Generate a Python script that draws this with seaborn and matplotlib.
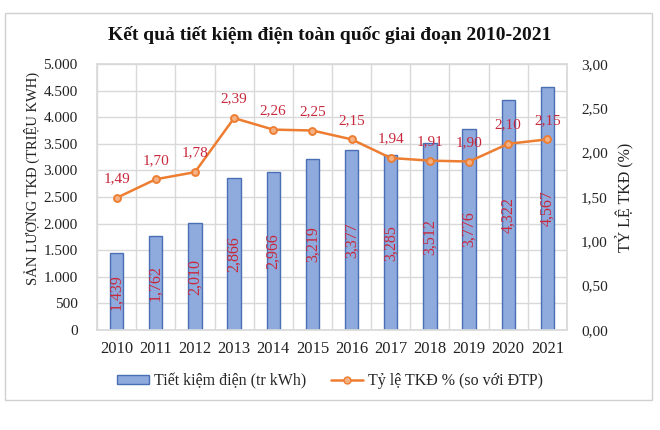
import matplotlib
matplotlib.use("Agg")
import matplotlib.pyplot as plt
import seaborn as sns
import pandas as pd
from matplotlib.ticker import FuncFormatter, FixedLocator
from matplotlib.patches import Rectangle, Patch
from matplotlib.lines import Line2D

years = ["2010", "2011", "2012", "2013", "2014", "2015", "2016", "2017", "2018", "2019", "2020", "2021"]
savings = [1439, 1762, 2010, 2866, 2966, 3219, 3377, 3285, 3512, 3776, 4322, 4567]
ratio = [1.49, 1.70, 1.78, 2.39, 2.26, 2.25, 2.15, 1.94, 1.91, 1.90, 2.10, 2.15]
left_ticks = [0, 500, 1000, 1500, 2000, 2500, 3000, 3500, 4000, 4500, 5000]
right_ticks = [0.0, 0.5, 1.0, 1.5, 2.0, 2.5, 3.0]

title = "Kết quả tiết kiệm điện toàn quốc giai đoạn 2010-2021"
bar_name = "Tiết kiệm điện (tr kWh)"
line_name = "Tỷ lệ TKĐ % (so với ĐTP)"

df = pd.DataFrame({"year": years, "savings": savings, "ratio": ratio})

sns.set_theme(style="white")
plt.rcParams["font.family"] = ["Liberation Serif", "DejaVu Serif"]

BAR = "#8FAADC"
BAR_EDGE = "#4A6FB5"
LINE = "#ED7D31"
MARK = "#F4B183"
LABEL = "#C8283C"
GRID = "#D9D9D9"
TXT = "#222222"

fig = plt.figure(figsize=(6.6, 4.3), dpi=100)
fig.patch.set_facecolor("white")
fig.patches.append(Rectangle((5 / 660, 1 - 400 / 430), 647 / 660, 387 / 430,
                             transform=fig.transFigure, fill=False,
                             edgecolor="#D0D0D0", linewidth=1.0))

ax = fig.add_axes([97 / 660, 1 - 330 / 430, 470 / 660, 266 / 430])
sns.barplot(data=df, x="year", y="savings", ax=ax, color=BAR, width=0.34,
            edgecolor=BAR_EDGE, linewidth=1.0, saturation=1)
ax.set_ylim(0, 5000)
ax.yaxis.set_major_locator(FixedLocator(left_ticks))
ax.yaxis.set_major_formatter(FuncFormatter(lambda v, p: f"{int(v):,}".replace(",", ".")))
ax.set_xlim(-0.5, len(years) - 0.5)
ax.set_xticks([i + 0.5 for i in range(-1, len(years))], minor=True)
ax.grid(True, axis="y", color=GRID, linewidth=1.0)
ax.grid(True, axis="x", which="minor", color=GRID, linewidth=1.0)
ax.set_axisbelow(True)
ax.tick_params(axis="both", which="both", length=0, colors=TXT)
ax.tick_params(axis="y", labelsize=11, pad=14)
ax.tick_params(axis="x", labelsize=12, pad=8)
ax.set_xlabel("")
ax.set_ylabel("SẢN LƯỢNG TKĐ (TRIỆU KWH)", fontsize=10.5, color=TXT)
ax.yaxis.set_label_coords(-0.122, 0.57)
for s in ax.spines.values():
    s.set_color(GRID)

for patch, v in zip(ax.patches, savings):
    cx = patch.get_x() + patch.get_width() / 2
    ax.text(cx, v / 2, f"{v:,}", rotation=90, ha="center", va="center",
            color=LABEL, fontsize=11.5)

ax2 = ax.twinx()
sns.pointplot(data=df, x="year", y="ratio", ax=ax2, color=LINE, markers="o",
              markersize=5, linewidth=1.8)
for ln in ax2.lines:
    ln.set_markerfacecolor(MARK)
    ln.set_markeredgecolor(LINE)
ax2.set_ylim(0, 3.0)
ax2.yaxis.set_major_locator(FixedLocator(right_ticks))
ax2.yaxis.set_major_formatter(FuncFormatter(lambda v, p: f"{v:.2f}".replace(".", ",")))
ax2.tick_params(axis="y", length=0, labelsize=11, colors=TXT, pad=10)
ax2.set_ylabel("TỶ LỆ TKĐ (%)", fontsize=11.5, color=TXT, labelpad=6)
ax2.set_xlabel("")
ax2.grid(False)
for s in ax2.spines.values():
    s.set_visible(False)
ax2.set_xlim(-0.5, len(years) - 0.5)

for i, r in enumerate(ratio):
    ax2.annotate(f"{r:.2f}".replace(".", ","), (i, r), xytext=(0, 9),
                 textcoords="offset points", ha="center", va="bottom",
                 color=LABEL, fontsize=11)

fig.text(0.5, 1 - 35 / 430, title, ha="center", va="center",
         fontsize=14, fontweight="bold", color="#111111")

handles = [Patch(facecolor=BAR, edgecolor=BAR_EDGE, linewidth=1.0),
           Line2D([0], [0], color=LINE, linewidth=1.8, marker="o", markersize=5,
                  markerfacecolor=MARK, markeredgecolor=LINE)]
fig.legend(handles, [bar_name, line_name], loc="center", ncol=2,
           bbox_to_anchor=(0.5, 1 - 381 / 430), frameon=False, fontsize=11.5,
           handlelength=2.0, handleheight=0.5, columnspacing=1.6, handletextpad=0.3)

fig.savefig("out.png", dpi=100, facecolor="white")
